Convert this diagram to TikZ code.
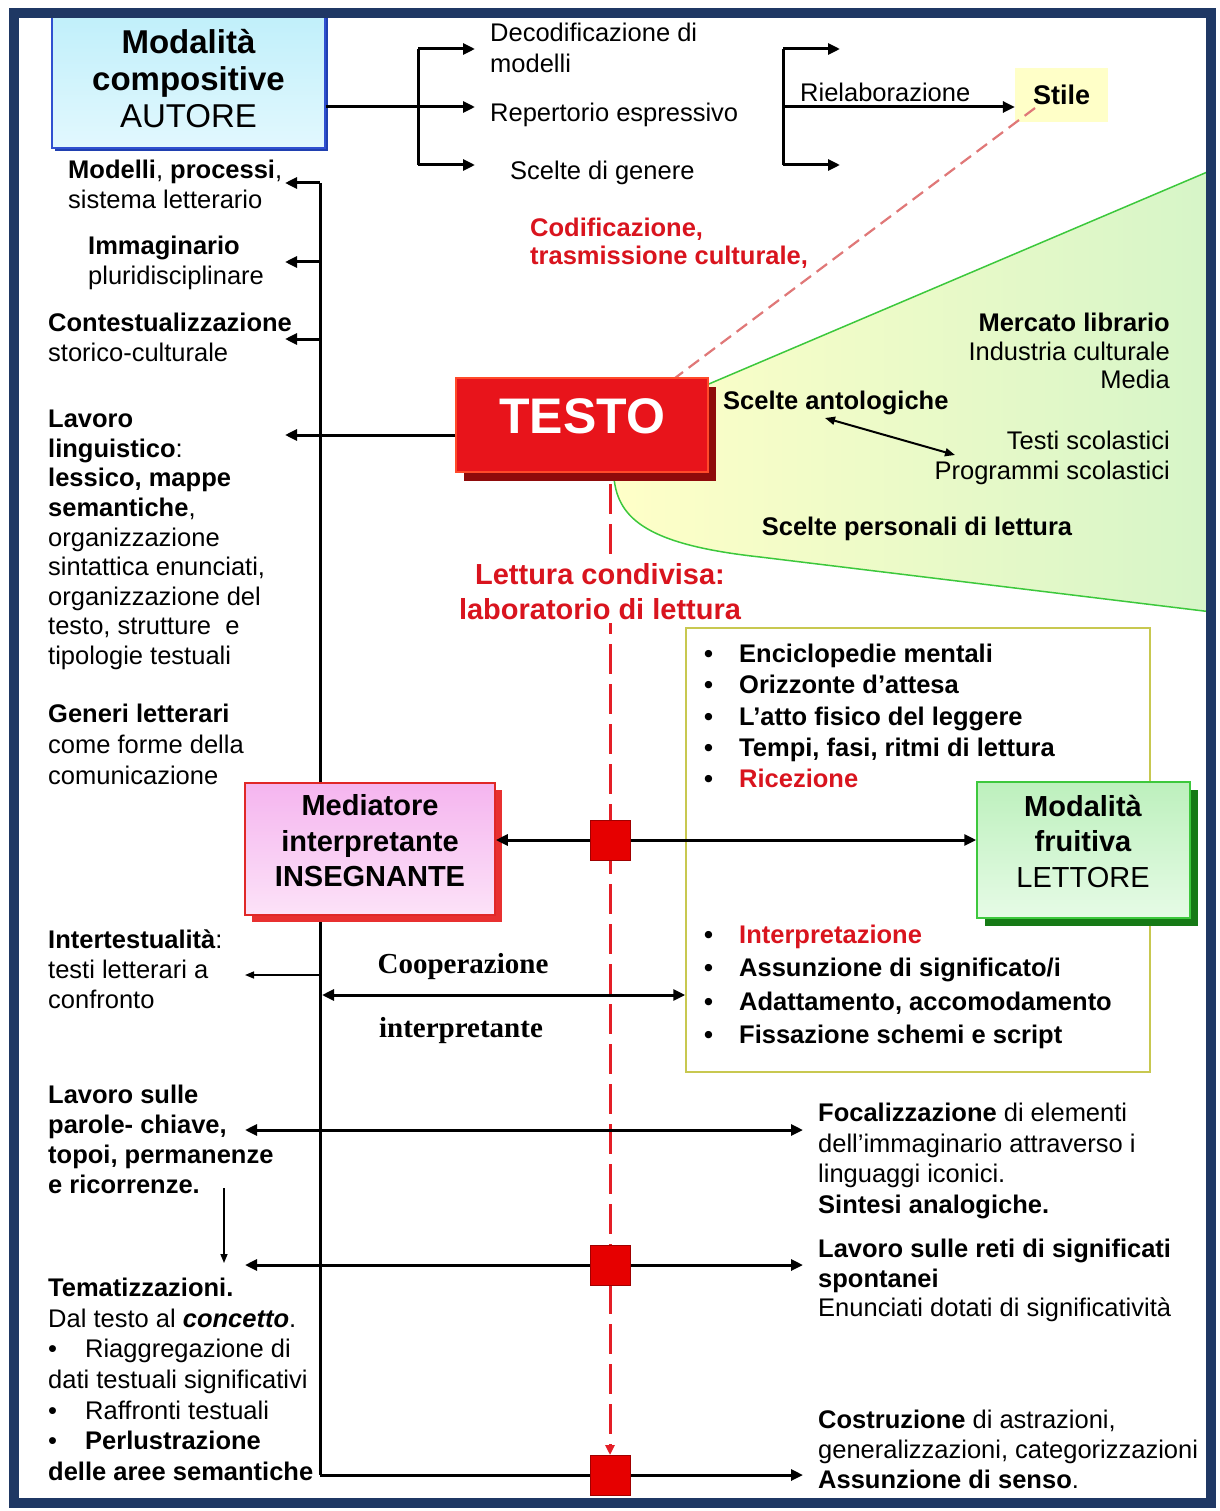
\documentclass[tikz,border=0pt]{standalone}
\usepackage{fontspec}
\setmainfont{Liberation Sans}
\newfontfamily\timesfont{Liberation Serif}
\usetikzlibrary{arrows.meta}
\definecolor{framec}{HTML}{1F3864}
\definecolor{autb}{HTML}{3050D0}
\definecolor{autsh}{HTML}{2040B0}
\definecolor{autt}{HTML}{BFEFFA}
\definecolor{autbt}{HTML}{E2F8FE}
\definecolor{testor}{HTML}{E8141B}
\definecolor{testob}{HTML}{FF4A2A}
\definecolor{testosh}{HTML}{8E0B0B}
\definecolor{sqred}{HTML}{E60000}
\definecolor{sqb}{HTML}{A00000}
\definecolor{dashr}{HTML}{E41E26}
\definecolor{pinkd}{HTML}{E07878}
\definecolor{insf}{HTML}{F5B5EF}
\definecolor{insf2}{HTML}{FCE2F8}
\definecolor{insb}{HTML}{E02828}
\definecolor{inssh}{HTML}{E83030}
\definecolor{letf}{HTML}{BDF0BD}
\definecolor{letf2}{HTML}{E6FBE6}
\definecolor{letb}{HTML}{3DC83D}
\definecolor{letsh}{HTML}{167A16}
\definecolor{boxb}{HTML}{C8C850}
\definecolor{stilef}{HTML}{FFFFC8}
\definecolor{regy}{HTML}{FFFFC8}
\definecolor{regm}{HTML}{FBFDC8}
\definecolor{regg}{HTML}{D6F5C8}
\definecolor{regl}{HTML}{3CC83C}
\definecolor{redt}{HTML}{D9141E}
\newcommand{\bodyfont}{\fontsize{25.5}{30}\selectfont}
\newcommand{\mybul}{\makebox[35pt][l]{\textbullet}}
\newcommand{\mybulL}{\makebox[37pt][l]{\textbullet}}
\begin{document}
\begin{tikzpicture}[x=1pt,y=-1pt,
  txt/.style={anchor=north west,inner sep=0pt,align=left,font=\bodyfont},
  txtr/.style={anchor=north east,inner sep=0pt,align=right,font=\bodyfont},
  arr/.style={line width=3pt,-{Triangle[length=12pt,width=11pt]}},
  darr/.style={line width=3pt,{Triangle[length=12pt,width=11pt]}-{Triangle[length=12pt,width=11pt]}},
  thinarr/.style={line width=1.5pt,-{Triangle[length=9pt,width=7pt]}},
  thindarr/.style={line width=2pt,{Triangle[length=10pt,width=8pt]}-{Triangle[length=10pt,width=8pt]}},
  redsq/.style={draw=sqb,fill=sqred,line width=1pt,minimum size=40pt,inner sep=0pt},
  plainline/.style={line width=3pt}
]
\useasboundingbox (0,0) rectangle (1219,1511);
\fill[white] (0,0) rectangle (1219,1511);

% green/yellow region
\path[draw=regl, line width=1.5pt, left color=regy, middle color=regm, right color=regg]
  (690,392) -- (1212,170) -- (1212,612) -- (760,557)
  .. controls (650,545) and (618,520) .. (614,478) -- cycle;

% coordinates
\coordinate (b1t) at (418,49);
\coordinate (b1m) at (418,107);
\coordinate (b1b) at (418,165);
\coordinate (e1t) at (475,49);
\coordinate (e1m) at (475,107);
\coordinate (e1b) at (475,165);
\coordinate (b2t) at (783,49);
\coordinate (b2m) at (783,107);
\coordinate (b2b) at (783,165);
\coordinate (e2t) at (840,49);
\coordinate (e2b) at (840,165);
\coordinate (vtop) at (320,183);
\coordinate (v2) at (320,262);
\coordinate (v3) at (320,339);
\coordinate (vint) at (320,975);
\coordinate (vcoop) at (322,995);
\coordinate (vbot) at (320,1475);
\coordinate (l1) at (285,183);
\coordinate (l2) at (285,262);
\coordinate (l3) at (285,339);
\coordinate (l4) at (285,435);
\coordinate (lint) at (245,975);
\coordinate (rowAl) at (245,1130);
\coordinate (rowAr) at (803,1130);
\coordinate (rowBl) at (245,1265);
\coordinate (rowBr) at (803,1265);
\coordinate (rowCr) at (803,1475);
\coordinate (dtop) at (224,1188);
\coordinate (dbot) at (224,1263);
\coordinate (pd1) at (1035,108);
\coordinate (dashend) at (610,1455);
\coordinate (sa1) at (825,418);
\coordinate (sa2) at (955,455);

% boxes (backgrounds)
\node[fill=autsh, minimum width=273pt, minimum height=138pt, inner sep=0pt] (autoresh) at (191.5,82) {};
\node[draw=autb, line width=1.5pt, top color=autt, bottom color=autbt, minimum width=273pt, minimum height=138pt, inner sep=0pt] (autore) at (188.5,79) {};
\node[fill=stilef, minimum width=93pt, minimum height=54pt, inner sep=0pt] (stile) at (1061.5,95) {};

% pink dashed line Stile -> TESTO
\draw[pinkd, line width=2.2pt, dash pattern=on 13pt off 7pt] (pd1) -- (675,378);

% main red dashed line
\draw[dashr, line width=3pt, dash pattern=on 30pt off 10pt, -{Triangle[length=10pt,width=9pt]}] (610,484) -- (dashend);

% left vertical line
\draw[plainline] (vtop) -- (vbot);

% TESTO
\node[fill=testosh, minimum width=252pt, minimum height=94pt, inner sep=0pt] (testosh) at (590,434) {};
\node[fill=testor, draw=testob, line width=1.2pt, minimum width=252pt, minimum height=94pt, inner sep=0pt] (testo) at (582,425) {};
\node[text=white, font=\fontsize{50}{56}\selectfont\bfseries, inner sep=0pt] (testolbl) at (582,416) {TESTO};

% bullet box
\node[draw=boxb, line width=1.5pt, minimum width=464pt, minimum height=444pt, inner sep=0pt] (bbox) at (918,850) {};

% arrows top
\draw[plainline] (autore.east |- b1m) -- (b1m);
\draw[plainline] (b1t) -- (b1b);
\draw[arr] (b1t) -- (e1t);
\draw[arr] (b1m) -- (e1m);
\draw[arr] (b1b) -- (e1b);
\draw[plainline] (b2t) -- (b2b);
\draw[arr] (b2t) -- (e2t);
\draw[arr] (b2b) -- (e2b);
\draw[arr] (b2m) -- (stile.west |- b2m);

% left arrows
\draw[arr] (vtop) -- (l1);
\draw[arr] (v2) -- (l2);
\draw[arr] (v3) -- (l3);
\draw[arr] ([yshift=-10pt]testo.west) -- (l4);
\draw[thinarr] (vint) -- (lint);
\draw[darr] (vcoop) -- (bbox.west |- vcoop);
\draw[darr] (rowAl) -- (rowAr);
\draw[darr] (rowBl) -- (rowBr);
\draw[arr] (vbot) -- (rowCr);
\draw[thinarr] (dtop) -- (dbot);
\draw[thindarr] (sa1) -- (sa2);

% INSEGNANTE and LETTORE
\node[fill=inssh, minimum width=250pt, minimum height=132pt, inner sep=0pt] (inssh) at (377,856) {};
\node[draw=insb, line width=1.5pt, top color=insf, bottom color=insf2, minimum width=250pt, minimum height=132pt, inner sep=0pt] (ins) at (370,849) {};
\node[fill=letsh, minimum width=213pt, minimum height=136pt, inner sep=0pt] (letsh) at (1091.5,858) {};
\node[draw=letb, line width=1.5pt, top color=letf, bottom color=letf2, minimum width=213pt, minimum height=136pt, inner sep=0pt] (lett) at (1083.5,850) {};

\node[redsq] (sq1) at (610,840) {};
\draw[arr] (sq1.west) -- (ins.east |- sq1);
\draw[arr] (sq1.east) -- (lett.west |- sq1);
\node[redsq] (sq2) at (610,1265) {};
\node[redsq] (sq3) at (610,1475) {};

% box labels
\node[align=center, inner sep=0pt, font=\fontsize{33}{37}\selectfont] (autoret) at (188.5,79) {{\bfseries Modalità}\\{\bfseries compositive}\\AUTORE};
\node[inner sep=0pt, font=\fontsize{27}{30}\selectfont\bfseries] (stilet) at (1061.5,95) {Stile};
\node[align=center, inner sep=0pt, font=\fontsize{29}{35.5}\selectfont\bfseries] (inst) at (370,841) {Mediatore\\interpretante\\INSEGNANTE};
\node[align=center, inner sep=0pt, font=\fontsize{29}{35.5}\selectfont] (lettt) at (1083,841) {{\bfseries Modalità}\\{\bfseries fruitiva}\\LETTORE};

% top texts
\node[txt, font=\fontsize{25.5}{31}\selectfont] (decod) at (490,23) {Decodificazione di\\modelli};
\node[txt] (repert) at (490,103) {Repertorio espressivo};
\node[txt] (scelteg) at (510,161) {Scelte di genere};
\node[txt] (rielab) at (800,83) {Rielaborazione};
\node[txt, text=redt, font=\fontsize{25.5}{28}\selectfont\bfseries] (codif) at (530,218) {Codificazione,\\trasmissione culturale,};

% region texts
\node[txtr, font=\fontsize{25.5}{28.5}\selectfont] (mercato) at (1170,313) {\textbf{Mercato librario}\\Industria culturale\\Media};
\node[txt, font=\bodyfont\bfseries] (sceltea) at (723,391) {Scelte antologiche};
\node[txtr] (testis) at (1170,431) {Testi scolastici\\Programmi scolastici};
\node[anchor=north, inner sep=0pt, font=\bodyfont\bfseries] (sceltep) at (917,517) {Scelte personali di lettura};
\node[anchor=north, inner sep=3pt, fill=white, align=center, text=redt, font=\fontsize{29}{35}\selectfont\bfseries] (lettura) at (600,560) {Lettura condivisa:\\laboratorio di lettura};

% left texts
\node[txt] (modelli) at (68,160) {\textbf{Modelli}, \textbf{processi},\\sistema letterario};
\node[txt] (immag) at (88,236) {\textbf{Immaginario}\\pluridisciplinare};
\node[txt] (contest) at (48,313) {\textbf{Contestualizzazione}\\storico-culturale};
\node[txt, font=\fontsize{25.5}{29.6}\selectfont] (lavling) at (48,410) {\textbf{Lavoro}\\\textbf{linguistico}:\\\textbf{lessico, mappe}\\\textbf{semantiche},\\organizzazione\\sintattica enunciati,\\organizzazione del\\testo, strutture~ e\\tipologie testuali};
\node[txt, font=\fontsize{25.5}{31}\selectfont] (generi) at (48,704) {\textbf{Generi letterari}\\come forme della\\comunicazione};
\node[txt] (intert) at (48,930) {\textbf{Intertestualità}:\\testi letterari a\\confronto};
\node[txt, font=\bodyfont\bfseries] (lavparole) at (48,1085) {Lavoro sulle\\parole- chiave,\\topoi, permanenze\\e ricorrenze.};
\node[txt, font=\fontsize{25.5}{30.6}\selectfont] (temat) at (48,1278) {\textbf{Tematizzazioni.}\\Dal testo al \textbf{\textit{concetto}}.\\\mybulL Riaggregazione di\\dati testuali significativi\\\mybulL Raffronti testuali\\\mybulL\textbf{Perlustrazione}\\\textbf{delle aree semantiche}};

% cooperazione
\node[anchor=north, inner sep=0pt, font=\fontsize{29}{32}\selectfont\timesfont\bfseries] (coop) at (463,953) {Cooperazione};
\node[anchor=north, inner sep=0pt, font=\fontsize{29}{32}\selectfont\timesfont\bfseries] (coopi) at (461,1017) {interpretante};

% bullets
\node[txt, font=\fontsize{25.5}{31.25}\selectfont\bfseries] (bulup) at (704,644) {\mybul Enciclopedie mentali\\\mybul Orizzonte d’attesa\\\mybul L’atto fisico del leggere\\\mybul Tempi, fasi, ritmi di lettura\\\mybul \textcolor{redt}{Ricezione}};
\node[txt, font=\fontsize{25.5}{33.3}\selectfont\bfseries] (buldown) at (704,925) {\mybul \textcolor{redt}{Interpretazione}\\\mybul Assunzione di significato/i\\\mybul Adattamento, accomodamento\\\mybul Fissazione schemi e script};

% right texts bottom
\node[txt, font=\fontsize{25.5}{30.5}\selectfont] (focal) at (818,1103) {\textbf{Focalizzazione} di elementi\\dell'immaginario attraverso i\\linguaggi iconici.\\\textbf{Sintesi analogiche.}};
\node[txt, font=\fontsize{25.5}{29.5}\selectfont] (reti) at (818,1239) {\textbf{Lavoro sulle reti di significati}\\\textbf{spontanei}\\Enunciati dotati di significatività};
\node[txt] (costr) at (818,1410) {\textbf{Costruzione} di astrazioni,\\generalizzazioni, categorizzazioni\\\textbf{Assunzione di senso}.};

% frame
\draw[framec, line width=10pt] (14,13) rectangle (1211,1503);
\end{tikzpicture}
\end{document}
